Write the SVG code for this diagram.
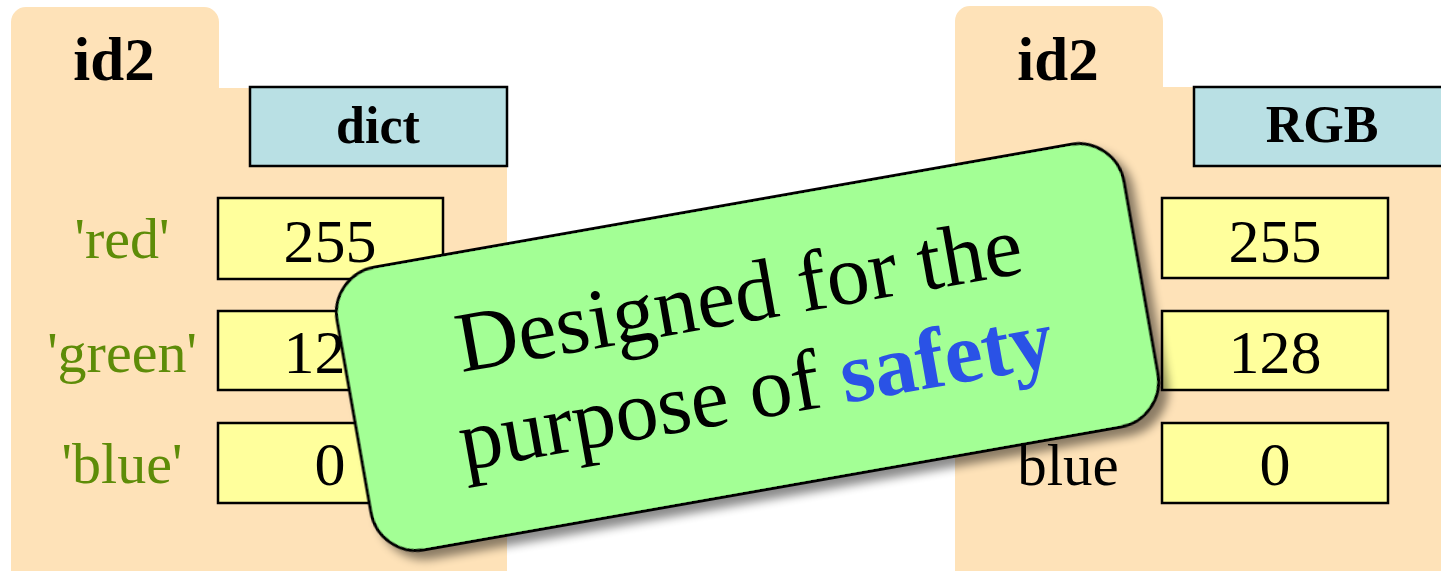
<svg xmlns="http://www.w3.org/2000/svg" width="1441" height="571" viewBox="0 0 1441 571">
<defs>
<style>
.folder{fill:#fee2b8;}
.type{fill:#b9e0e4;stroke:#000;stroke-width:2.5;}
.val{fill:#ffff9c;stroke:#000;stroke-width:2.5;}
.title{font-family:"Liberation Serif",serif;font-weight:bold;font-size:61px;fill:#000;text-anchor:middle;}
.tname{font-family:"Liberation Serif",serif;font-weight:bold;font-size:52px;fill:#000;text-anchor:middle;}
.num{font-family:"Liberation Serif",serif;font-size:62px;fill:#000;text-anchor:middle;}
.key{font-family:"Liberation Serif",serif;font-size:58px;fill:#5e8c08;text-anchor:middle;}
.attr{font-family:"Liberation Serif",serif;font-size:59px;fill:#000;text-anchor:middle;}
.call{font-family:"Liberation Serif",serif;font-size:86px;fill:#000;text-anchor:middle;}
</style>
<filter id="shadow" x="-10%" y="-20%" width="125%" height="150%">
<feDropShadow dx="7" dy="9" stdDeviation="5" flood-color="#000" flood-opacity="0.45"/>
</filter>
</defs>

<g id="folder-left">
<path class="folder" d="M11,571 V22 A15,15 0 0 1 26,7 H204 A15,15 0 0 1 219,22 V88 H507 V571 Z"/>
<text class="title" x="114" y="80">id2</text>
<rect class="type" x="250" y="87" width="257" height="79"/>
<text class="tname" x="378" y="143">dict</text>
<rect class="val" x="218" y="198" width="225" height="81"/>
<text class="num" x="330" y="262">255</text>
<rect class="val" x="218" y="311" width="225" height="79"/>
<text class="num" x="330" y="373">128</text>
<rect class="val" x="218" y="423" width="225" height="80"/>
<text class="num" x="330" y="485">0</text>
<text class="key" x="122" y="258">'red'</text>
<text class="key" x="122" y="372">'green'</text>
<text class="key" x="122" y="483">'blue'</text>
</g>

<g id="folder-right">
<path class="folder" d="M955,571 V21 A15,15 0 0 1 970,6 H1148 A15,15 0 0 1 1163,21 V87 H1441 V571 Z"/>
<text class="title" x="1058" y="80">id2</text>
<rect class="type" x="1194" y="87" width="270" height="79"/>
<text class="tname" x="1322" y="142">RGB</text>
<rect class="val" x="1162" y="198" width="226" height="80"/>
<text class="num" x="1275" y="262">255</text>
<rect class="val" x="1162" y="311" width="226" height="79"/>
<text class="num" x="1275" y="373">128</text>
<rect class="val" x="1162" y="423" width="226" height="80"/>
<text class="num" x="1275" y="485">0</text>
<text class="attr" x="1068" y="485">blue</text>
</g>

<g id="connectors"></g>

<g id="callout" transform="translate(748,347) rotate(-10)">
<rect x="-400" y="-143.5" width="799" height="287" rx="46" ry="46" fill="#a3ff95" stroke="#000" stroke-width="3" filter="url(#shadow)"/>
<text class="call" x="0" y="-25">Designed for the</text>
<text class="call" x="0" y="72">purpose of <tspan font-weight="bold" fill="#2a52e6">safety</tspan></text>
</g>
</svg>
